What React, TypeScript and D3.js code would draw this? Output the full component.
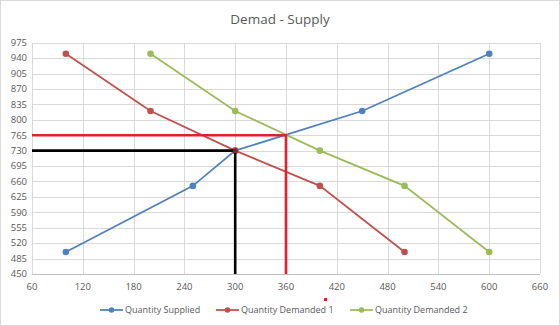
import React, { useEffect, useRef } from 'react';
import * as d3 from 'd3';

type Pt = [number, number];

// Series values (quantity, price)
const supplied: Pt[] = [[100, 500], [250, 650], [300, 730], [450, 820], [600, 950]];
const demanded1: Pt[] = [[100, 950], [200, 820], [300, 730], [400, 650], [500, 500]];
const demanded2: Pt[] = [[200, 950], [300, 820], [400, 730], [500, 650], [600, 500]];

// Equilibrium guide lines
const equilibrium1: Pt[] = [[60, 730], [300, 730], [300, 450]];
const equilibrium2: Pt[] = [[60, 765], [360, 765], [360, 450]];

const xTicks = [60, 120, 180, 240, 300, 360, 420, 480, 540, 600, 660];
const yTicks = [450, 485, 520, 555, 590, 625, 660, 695, 730, 765, 800, 835, 870, 905, 940, 975];

const seriesNames = ['Quantity Supplied', 'Quantity Demanded 1', 'Quantity Demanded 2'];
const seriesColors = ['#4F81BD', '#C0504D', '#9BBB59'];

const W = 560;
const H = 326;
const font = "'Open Sans', 'Noto Sans', sans-serif";

export default function App() {
  const svgRef = useRef<SVGSVGElement>(null);

  useEffect(() => {
    const svg = d3.select(svgRef.current);
    svg.selectAll('*').remove();

    const x = d3.scaleLinear().domain([60, 660]).range([32, 540]);
    const y = d3.scaleLinear().domain([450, 975]).range([274, 42.7]);

    svg.append('rect')
      .attr('x', 0.5).attr('y', 0.5)
      .attr('width', W - 1).attr('height', H - 1)
      .attr('fill', '#fff').attr('stroke', '#D9D9D9');

    svg.append('text')
      .attr('x', W / 2).attr('y', 24)
      .attr('text-anchor', 'middle')
      .attr('font-family', font).attr('font-size', 13.5)
      .attr('fill', '#595959')
      .text('Demad - Supply');

    // gridlines
    const grid = svg.append('g').attr('stroke', '#D9D9D9').attr('stroke-width', 1);
    yTicks.forEach(t => {
      grid.append('line')
        .attr('x1', x(60)).attr('x2', x(660))
        .attr('y1', Math.round(y(t)) + 0.5).attr('y2', Math.round(y(t)) + 0.5);
    });
    xTicks.forEach(t => {
      grid.append('line')
        .attr('y1', y(450)).attr('y2', y(975))
        .attr('x1', Math.round(x(t)) + 0.5).attr('x2', Math.round(x(t)) + 0.5);
    });
    svg.append('line')
      .attr('x1', x(60)).attr('x2', x(660))
      .attr('y1', Math.round(y(450)) + 0.5).attr('y2', Math.round(y(450)) + 0.5)
      .attr('stroke', '#BFBFBF');

    // tick labels
    const labels = svg.append('g')
      .attr('font-family', font).attr('font-size', 9.5).attr('fill', '#595959');
    yTicks.forEach(t => {
      labels.append('text')
        .attr('x', 27).attr('y', y(t)).attr('dy', '0.35em')
        .attr('text-anchor', 'end').text(t);
    });
    xTicks.forEach(t => {
      labels.append('text')
        .attr('x', x(t)).attr('y', 290)
        .attr('text-anchor', 'middle').text(t);
    });

    const line = d3.line<Pt>().x(d => x(d[0])).y(d => y(d[1]));

    [supplied, demanded1, demanded2].forEach((s, i) => {
      svg.append('path')
        .attr('d', line(s))
        .attr('fill', 'none')
        .attr('stroke', seriesColors[i])
        .attr('stroke-width', 1.75);
      svg.append('g').selectAll('circle')
        .data(s)
        .enter()
        .append('circle')
        .attr('cx', d => x(d[0]))
        .attr('cy', d => y(d[1]))
        .attr('r', 3.3)
        .attr('fill', seriesColors[i]);
    });

    svg.append('path')
      .attr('d', line(equilibrium2))
      .attr('fill', 'none').attr('stroke', '#E0202C').attr('stroke-width', 2.6);
    svg.append('path')
      .attr('d', line(equilibrium1))
      .attr('fill', 'none').attr('stroke', '#000').attr('stroke-width', 2.6);
    svg.append('circle')
      .attr('cx', x(300)).attr('cy', y(730)).attr('r', 2.5).attr('fill', '#6b2a2a');

    // stray marker below axis
    svg.append('rect')
      .attr('x', 324).attr('y', 298).attr('width', 3).attr('height', 3).attr('fill', '#E0202C');

    // legend
    const legendX = [100, 216, 350];
    const legend = svg.append('g').attr('font-family', font).attr('font-size', 9).attr('fill', '#595959');
    seriesNames.forEach((n, i) => {
      const g = legend.append('g').attr('transform', `translate(${legendX[i]},310)`);
      g.append('line').attr('x1', 0).attr('x2', 23).attr('stroke', seriesColors[i]).attr('stroke-width', 1.75);
      g.append('circle').attr('cx', 11.5).attr('r', 2.8).attr('fill', seriesColors[i]);
      g.append('text').attr('x', 25).attr('dy', '0.35em').text(n);
    });
  }, []);

  return (
    <svg ref={svgRef} width={W} height={H} style={{ position: 'absolute', left: 0, top: 0 }} />
  );
}
